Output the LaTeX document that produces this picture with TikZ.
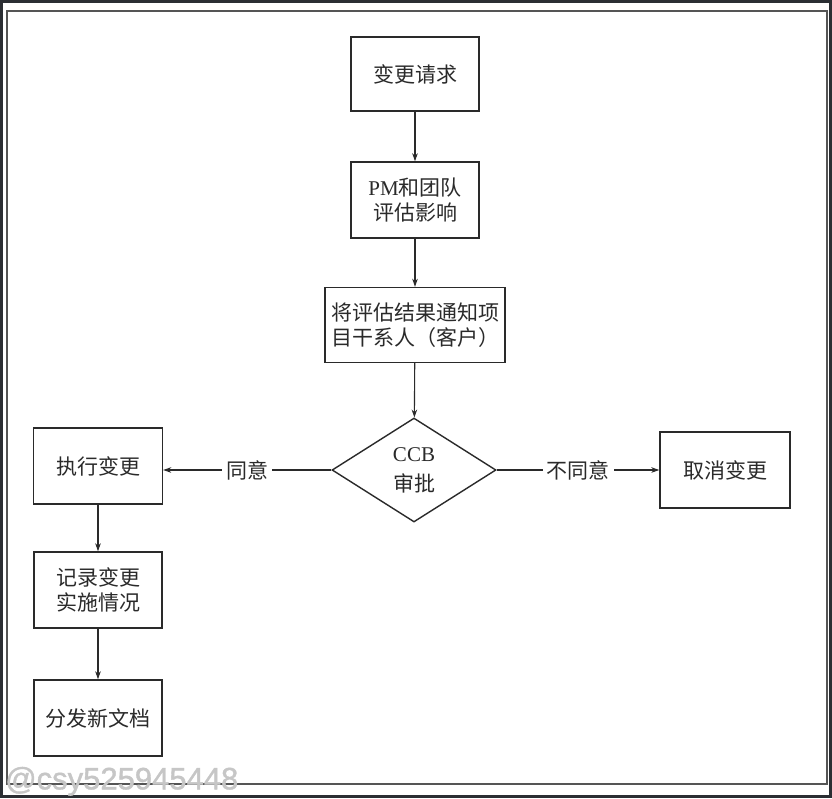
\documentclass[tikz,border=0pt]{standalone}
\usepackage{fontspec}
\setmainfont{Liberation Serif}
\newfontfamily\cjk{Noto Sans CJK SC}[Scale=1]
\newfontfamily\wmfont{Liberation Sans}[FakeBold=1.2]
\usetikzlibrary{shapes.geometric,arrows.meta}
\definecolor{ink}{HTML}{2A2A2A}
\definecolor{edge}{HTML}{2B2E33}
\begin{document}
\begin{tikzpicture}[x=1pt,y=-1pt,
  every node/.style={text=ink,font=\fontsize{21}{25}\selectfont},
  box/.style={draw=ink,line width=1.4pt,inner sep=0pt,align=center},
  flow/.style={draw=ink,line width=1.1pt,-{Stealth[length=8pt,width=5.5pt]}},
  lbl/.style={fill=white,inner sep=4pt}]
\useasboundingbox (0,0) rectangle (832,798);
\fill[edge] (0,0) rectangle (832,798);
\fill[white] (3,3) rectangle (829,795);
\draw[draw=ink!80,line width=1.6pt] (7,11) rectangle (827,784);

\node[box,minimum width=128pt,minimum height=74pt] (req) at (415,74) {\cjk 变更请求};
\node[box,minimum width=128pt,minimum height=76pt] (pm) at (415,200) {PM\cjk 和团队\\\cjk 评估影响};
\node[box,minimum width=180pt,minimum height=75pt] (notify) at (415,325) {\cjk 将评估结果通知项\\\cjk 目干系人（客户）};
\node[draw=ink,line width=1.4pt,shape=diamond,aspect=1.58,minimum width=164pt,minimum height=104pt,inner sep=0pt,align=center,font=\fontsize{21}{30}\selectfont] (ccb) at (414,470) {CCB\\\cjk 审批};
\node[box,minimum width=129pt,minimum height=76pt] (exec) at (98,466) {\cjk 执行变更};
\node[box,minimum width=130pt,minimum height=76pt] (cancel) at (725,470) {\cjk 取消变更};
\node[box,minimum width=128pt,minimum height=76pt] (rec) at (98,590) {\cjk 记录变更\\\cjk 实施情况};
\node[box,minimum width=128pt,minimum height=76pt] (dist) at (98,718) {\cjk 分发新文档};

\draw[flow] (req) -- (pm);
\draw[flow] (pm) -- (notify);
\draw[flow] (notify) -- (ccb);
\draw[flow] (ccb.west) -- node[lbl] {\cjk 同意} (exec.east |- ccb.west);
\draw[flow] (ccb.east) -- node[lbl] {\cjk 不同意} (cancel.west |- ccb.east);
\draw[flow] (exec) -- (rec);
\draw[flow] (rec) -- (dist);

\node[anchor=south west,inner sep=0pt,text=gray!45,font=\wmfont\fontsize{31}{31}\selectfont] (wm) at (5,796) {@csy525945448};
\end{tikzpicture}
\end{document}
